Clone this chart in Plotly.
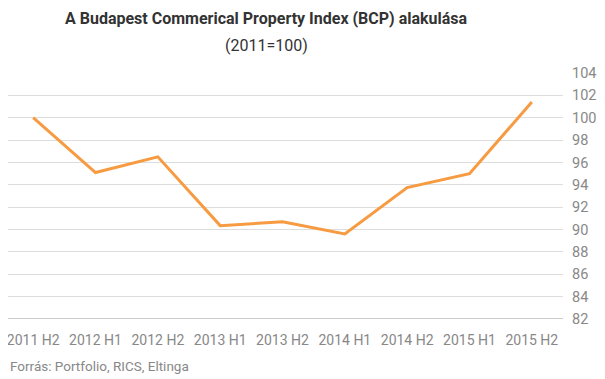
import plotly.graph_objects as go

categories = ["2011 H2", "2012 H1", "2012 H2", "2013 H1", "2013 H2", "2014 H1", "2014 H2", "2015 H1", "2015 H2"]
values = [100.0, 95.1, 96.5, 90.35, 90.7, 89.6, 93.75, 95.0, 101.4]
y_ticks = list(range(82, 105, 2))

fig = go.Figure()
fig.add_trace(go.Scatter(x=categories, y=values, mode="lines",
                         line=dict(color="#F79B42", width=3), hoverinfo="x+y"))

fig.update_layout(
    width=597, height=371,
    margin=dict(l=0, r=42, t=65, b=60, pad=0, autoexpand=False),
    paper_bgcolor="white", plot_bgcolor="white",
    font=dict(family="Roboto", size=14, color="#888888"),
    showlegend=False,
    xaxis=dict(type="category", range=[-0.404, 8.5], showgrid=False, zeroline=False, showline=False,
               ticks="", automargin=False, ticklabelstandoff=11,
               tickfont=dict(size=14, color="#888888")),
    yaxis=dict(side="right", range=[82, 104], tickvals=y_ticks, showgrid=True,
               gridcolor="#DDDDDD", gridwidth=1, zeroline=False, showline=False,
               ticks="", automargin=False, ticklabelstandoff=8,
               tickfont=dict(size=14.5, color="#888888")),
    annotations=[
        dict(text="<b>A Budapest Commerical Property Index (BCP) alakulása</b>",
             xref="paper", yref="paper", x=0.4649, xanchor="center",
             y=1.2215, yanchor="middle", showarrow=False,
             font=dict(family="Roboto", size=16, color="#333333")),
        dict(text="(2011=100)",
             xref="paper", yref="paper", x=0.4649, xanchor="center",
             y=1.1118, yanchor="middle", showarrow=False,
             font=dict(family="Roboto", size=16, color="#333333")),
        dict(text="Forrás: Portfolio, RICS, Eltinga", xref="paper", yref="paper",
             x=0, xanchor="left", y=-0.191, yanchor="middle", showarrow=False,
             font=dict(family="Roboto", size=13.5, color="#888888")),
    ],
    shapes=[dict(type="line", xref="paper", yref="y", x0=0, x1=1, y0=82, y1=82,
                 line=dict(color="#999999", width=1))],
)

fig.write_html("out.html")
